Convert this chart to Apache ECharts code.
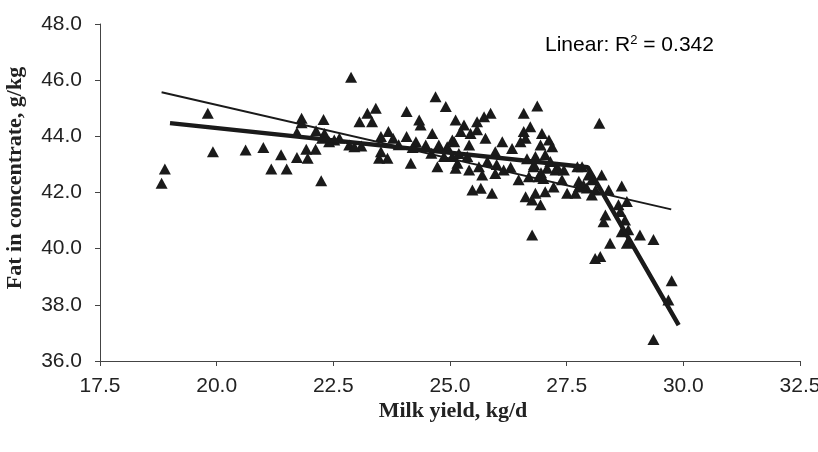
<!DOCTYPE html>
<html>
<head>
    <meta charset="UTF-8">
    <title>Fat in concentrate vs milk yield</title>
    <script src="https://cdn.jsdelivr.net/npm/echarts@6/dist/echarts.min.js"></script>
</head>
<body style="margin:0">
<div id="chart" style="width: 818px; height: 452px"></div>
<script>
    // observed herds: milk yield (kg/d) and fat in concentrate (g/kg)
    var milkYield = [
        19.81, 18.89, 18.82, 19.92, 20.62, 21.0, 21.38, 21.17, 21.5, 21.72,
        21.95, 21.92, 22.12, 22.24, 21.82, 21.82, 21.72, 22.29, 22.13, 22.31,
        22.26, 22.88, 22.52, 22.63, 22.84, 23.06, 23.1, 23.23, 23.41, 23.33,
        23.52, 23.48, 23.66, 23.68, 23.78, 23.52, 24.07, 24.07, 24.16, 24.27,
        24.34, 24.37, 24.48, 24.62, 24.69, 24.91, 24.73, 24.76, 24.94, 24.87,
        25.05, 25.12, 25.05, 25.12, 22.41, 22.95,
        26.87, 26.58, 25.87, 25.73, 25.58, 25.3, 25.23, 25.44, 25.76, 25.58,
        25.09, 25.41, 26.12, 26.33, 26.72, 26.58, 26.62, 26.51, 26.97, 27.12,
        27.19, 26.94, 25.97, 25.19, 25.37, 25.16, 25.41, 25.62, 25.69, 25.97,
        26.15, 25.48, 25.66, 25.9, 26.79, 26.83, 27.04, 26.69, 26.9, 27.08,
        27.26, 26.47, 26.62, 26.83, 27.04, 26.94, 26.76, 27.4, 27.51, 27.69,
        27.76, 27.73, 27.86, 27.44, 26.76, 28.2, 28.68, 28.79, 28.33, 28.43,
        29.07, 29.36, 28.11, 28.22, 28.61, 28.65, 28.29, 28.75, 28.82, 28.68,
        28.79, 28.25, 27.93, 28.12, 27.83, 28.04, 28.4, 27.97, 27.76, 28.04,
        27.22, 29.75, 29.68, 29.36, 26.8, 26.95, 27.15, 27.3, 27.0, 26.65,
        25.8, 26.0, 26.3, 24.6, 24.2, 23.9
    ];
    var fatConc = [
        44.82, 42.84, 42.33, 43.45, 43.51, 43.6, 43.34, 42.84, 42.84, 43.25,
        43.22, 43.54, 43.54, 42.42, 44.64, 44.48, 44.14, 44.6, 44.2, 44.1,
        43.93, 46.1, 43.87, 43.93, 43.69, 44.52, 43.66, 44.82, 45.0, 44.52,
        43.99, 43.22, 43.22, 44.17, 43.93, 43.45, 44.88, 43.99, 43.04, 43.81,
        44.58, 44.4, 43.69, 44.1, 45.41, 45.06, 42.92, 43.69, 43.63, 43.28,
        43.28, 44.58, 43.87, 42.86, 43.81, 43.63,
        45.08, 44.82, 44.82, 44.7, 44.52, 44.4, 44.17, 44.1, 43.93, 44.23,
        43.81, 43.69, 43.81, 43.57, 44.34, 44.17, 43.93, 43.81, 44.1, 43.87,
        43.63, 43.69, 43.45, 43.39, 43.28, 43.04, 42.8, 42.92, 42.62, 42.68,
        42.8, 42.09, 42.15, 41.97, 42.92, 43.28, 43.34, 42.56, 42.56, 42.86,
        42.8, 42.45, 41.85, 41.97, 42.03, 41.56, 41.73, 42.45, 41.97, 41.97,
        42.4, 42.92, 42.27, 42.8, 40.49, 44.47, 42.23, 41.68, 41.2, 40.19,
        40.49, 40.33, 39.65, 39.72, 41.56, 41.32, 40.96, 41.02, 40.67, 40.6,
        40.19, 42.62, 42.16, 42.09, 42.92, 42.45, 42.09, 42.62, 42.2, 41.91,
        42.2, 38.86, 38.17, 36.77, 43.0, 42.7, 43.1, 42.9, 42.5, 43.2,
        43.1, 43.0, 42.9, 43.4, 43.6, 43.7
    ];
    // fitted lines
    var linearX = [18.82, 29.74];
    var linearY = [45.57, 41.40];
    var brokenX = [19.0, 27.95, 29.9];
    var brokenY = [44.47, 42.9, 37.28];
    var xTicks = [17.5, 32.5, 2.5];
    var yTicks = [36, 48, 2];

    function pairs(xs, ys) {
        return xs.map(function (x, i) { return [x, ys[i]]; });
    }

    var chart = echarts.init(document.getElementById('chart'));
    var axisFont = {fontFamily: 'Liberation Sans, Arial', fontSize: 21, color: '#222'};
    var titleFont = 'bold 22px "Liberation Serif", "Times New Roman"';
    var option = {
        backgroundColor: '#fff',
        animation: false,
        grid: {left: 100, right: 18, top: 24, bottom: 91, outerBoundsMode: 'none'},
        xAxis: {
            type: 'value', min: xTicks[0], max: xTicks[1], interval: xTicks[2],
            axisLine: {lineStyle: {color: '#444', width: 1}},
            axisTick: {show: true, length: 5, lineStyle: {color: '#444'}},
            splitLine: {show: false},
            axisLabel: Object.assign({margin: 15, formatter: function (v) { return v.toFixed(1); }}, axisFont)
        },
        yAxis: {
            type: 'value', min: yTicks[0], max: yTicks[1], interval: yTicks[2],
            axisLine: {show: true, lineStyle: {color: '#444', width: 1}},
            axisTick: {show: true, length: 5, lineStyle: {color: '#444'}},
            splitLine: {show: false},
            axisLabel: Object.assign({margin: 18, formatter: function (v) { return v.toFixed(1); }}, axisFont)
        },
        graphic: [
            {
                type: 'text', x: 453, y: 400,
                style: {text: 'Milk yield, kg/d', font: titleFont, fill: '#222', align: 'center'}
            },
            {
                type: 'text', x: 4, y: 178, rotation: Math.PI / 2,
                style: {text: 'Fat in concentrate, g/kg', font: titleFont,
                    fill: '#222', align: 'center', verticalAlign: 'top'}
            },
            {
                type: 'text', x: 545, y: 34,
                style: {
                    text: '{a|Linear: R}{s|2}{a| = 0.342}',
                    rich: {
                        a: {fontFamily: 'Liberation Sans, Arial', fontSize: 21, color: '#222'},
                        s: {fontFamily: 'Liberation Sans, Arial', fontSize: 13, color: '#222', verticalAlign: 'top', padding: [0, 0, 9, 0]}
                    }
                }
            }
        ],
        series: [
            {
                type: 'scatter',
                symbol: 'triangle',
                symbolSize: [12, 11],
                itemStyle: {color: '#1a1a1a', opacity: 1},
                data: pairs(milkYield, fatConc),
                z: 2
            },
            {
                type: 'line',
                data: pairs(linearX, linearY),
                symbol: 'none',
                lineStyle: {color: '#1a1a1a', width: 2},
                z: 3
            },
            {
                type: 'line',
                data: pairs(brokenX, brokenY),
                symbol: 'none',
                lineStyle: {color: '#1a1a1a', width: 4.5},
                z: 3
            }
        ]
    };
    chart.setOption(option);
</script>
</body>
</html>
